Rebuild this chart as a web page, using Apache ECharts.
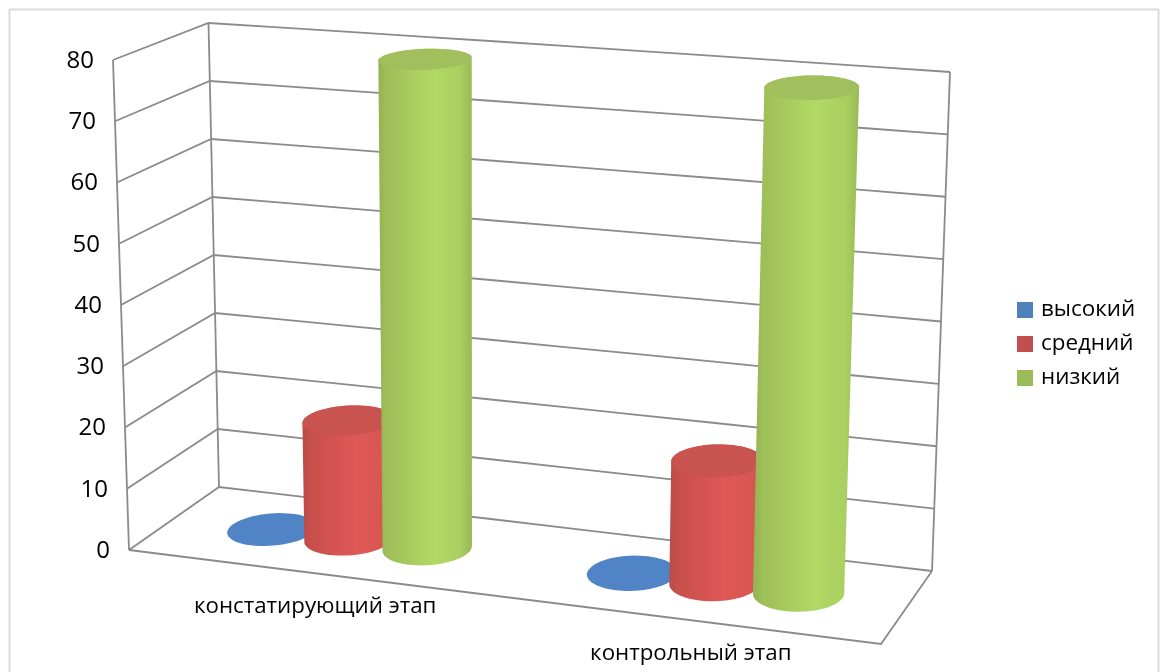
<!DOCTYPE html>
<html>
<head>
<meta charset="utf-8">
<style>html,body{margin:0;padding:0;background:#fff}#chart{width:1168px;height:672px}</style>
<script src="https://cdn.jsdelivr.net/npm/echarts@6/dist/echarts.min.js"></script>
</head>
<body>
<div id="chart"></div>
<script>
// Chart content
const categories = ['констатирующий этап', 'контрольный этап'];
const yTicks = [0, 10, 20, 30, 40, 50, 60, 70, 80];
const seriesNames = ['высокий', 'средний', 'низкий'];
const highValues = [0, 0];
const middleValues = [19.5, 19.5];
const lowValues = [80, 80];

// Box of the 3D scene on screen: corners listed front-left, front-right, back-right, back-left
const FLOOR = [[129, 550], [881, 644], [932, 571], [219, 487]];
const CEILING = [[113, 60], [898, 122], [950, 72], [208.5, 23]];
const FONT = '"Open Sans", sans-serif';
const WALL = '#8b8b8b';

// Maps the unit square onto a quadrilateral
function homography(q) {
  const [[x0, y0], [x1, y1], [x2, y2], [x3, y3]] = q;
  const dx1 = x1 - x2, dx2 = x3 - x2, sx = x0 - x1 + x2 - x3;
  const dy1 = y1 - y2, dy2 = y3 - y2, sy = y0 - y1 + y2 - y3;
  const det = dx1 * dy2 - dx2 * dy1;
  const g = (sx * dy2 - dx2 * sy) / det, h = (dx1 * sy - sx * dy1) / det;
  const a = x1 - x0 + g * x1, b = x3 - x0 + h * x3;
  const d = y1 - y0 + g * y1, e = y3 - y0 + h * y3;
  return (u, w) => {
    const k = g * u + h * w + 1;
    return [(a * u + b * w + x0) / k, (d * u + e * w + y0) / k];
  };
}
const floorMap = homography(FLOOR);
const RISE = CEILING.map((c, i) => [c[0] - FLOOR[i][0], c[1] - FLOOR[i][1]]);

// u: along the category axis, w: depth, v: height; all in 0..1
function project(u, w, v) {
  const f = floorMap(u, w);
  const blend = k => (RISE[0][k] * (1 - u) + RISE[1][k] * u) * (1 - w) + (RISE[3][k] * (1 - u) + RISE[2][k] * u) * w;
  return [f[0] + blend(0) * v, f[1] + blend(1) * v];
}
const heightOf = (api, cs, value) => (cs.y + cs.height - api.coord([0, value])[1]) / cs.height;

function convexHull(points) {
  const p = points.slice().sort((a, b) => a[0] - b[0] || a[1] - b[1]);
  const cross = (o, a, b) => (a[0] - o[0]) * (b[1] - o[1]) - (a[1] - o[1]) * (b[0] - o[0]);
  const half = list => {
    const out = [];
    for (const q of list) {
      while (out.length > 1 && cross(out[out.length - 2], out[out.length - 1], q) <= 0) out.pop();
      out.push(q);
    }
    out.pop();
    return out;
  };
  return half(p).concat(half(p.reverse()));
}

const strokeStyle = { stroke: WALL, lineWidth: 1.8, fill: 'none' };

function renderGridLines(params, api) {
  const cs = params.coordSys;
  const v = heightOf(api, cs, api.value(1));
  const backWall = [];
  for (let i = 0; i <= 10; i++) backWall.push(project(i / 10, 1, v));
  return {
    type: 'polyline',
    shape: { points: [project(0, 0, v)].concat(backWall) },
    style: strokeStyle
  };
}

// Wall edges and the outline of the floor
function renderBox() {
  const line = pts => ({ type: 'polyline', shape: { points: pts }, style: strokeStyle });
  return {
    type: 'group',
    children: [
      line([project(0, 0, 0), project(0, 0, 1)]),
      line([project(0, 1, 0), project(0, 1, 1)]),
      line([project(1, 1, 0), project(1, 1, 1)]),
      line([project(0, 0, 0), project(1, 0, 0), project(1, 1, 0)])
    ]
  };
}

function renderTickLabel(params, api) {
  const cs = params.coordSys;
  const value = api.value(1);
  const p = project(0, 0, heightOf(api, cs, value));
  return {
    type: 'text',
    style: { text: String(value), x: p[0] - 19, y: p[1] + 1, align: 'right', verticalAlign: 'middle',
      fontSize: 24, fontFamily: FONT, fill: '#000' }
  };
}

function renderCategoryLabel(params, api) {
  const cs = params.coordSys;
  const i = api.value(0);
  const p = project((api.coord([i, 0])[0] - cs.x) / cs.width, 0, 0);
  return {
    type: 'text',
    style: { text: categories[i], x: p[0] + 8, y: p[1] + 34, align: 'center', verticalAlign: 'middle',
      fontSize: 22.3, fontFamily: FONT, fill: '#000' }
  };
}

// One cylinder per data item; its circles are projected, so they tilt with the scene
function cylinderRenderer(offset, sideStops, capColor) {
  const RADIUS_U = 0.0565, RADIUS_W = 0.245, DEPTH = 0.5, STEPS = 60;
  return function (params, api) {
    const cs = params.coordSys;
    const pos = api.coord([api.value(0), api.value(1)]);
    const band = api.size([1, 0])[0] / cs.width;
    const u = (pos[0] - cs.x) / cs.width + offset * band;
    const v = (cs.y + cs.height - pos[1]) / cs.height;
    const circle = h => {
      const pts = [];
      for (let i = 0; i < STEPS; i++) {
        const t = i / STEPS * Math.PI * 2;
        pts.push(project(u + RADIUS_U * Math.cos(t), DEPTH + RADIUS_W * Math.sin(t), h));
      }
      return pts;
    };
    const base = circle(0), cap = circle(v);
    const capShape = { type: 'polygon', shape: { points: cap }, style: { fill: capColor } };
    if (v === 0) return capShape;
    return {
      type: 'group',
      children: [
        { type: 'polygon', shape: { points: convexHull(base.concat(cap)) },
          style: { fill: new echarts.graphic.LinearGradient(0, 0, 1, 0, sideStops) } },
        capShape
      ]
    };
  };
}

const stops = list => list.map(([offset, color]) => ({ offset, color }));
const redSide = stops([[0, '#b84c49'], [0.08, '#c64f4c'], [0.3, '#d25351'], [0.6, '#df5955'], [0.88, '#d85653'], [1, '#c25250']]);
const greenSide = stops([[0, '#93b252'], [0.08, '#9dbd58'], [0.3, '#a7ca5e'], [0.6, '#b1d964'], [0.88, '#a9cf60'], [1, '#97b955']]);
const pairs = values => values.map((value, i) => [i, value]);

const customBase = { type: 'custom', silent: true, coordinateSystem: 'cartesian2d', encode: { x: 0, y: 1 } };

const option = {
  animation: false,
  backgroundColor: '#fff',
  grid: { left: 113, top: 60, width: 768, height: 490 },
  xAxis: { type: 'category', data: categories, show: false },
  yAxis: { type: 'value', min: 0, max: 80, interval: 10, show: false },
  legend: {
    data: seriesNames, orient: 'vertical', left: 1012, top: 294, icon: 'rect',
    itemWidth: 16, itemHeight: 16, itemGap: 12,
    textStyle: { fontSize: 22.4, fontFamily: FONT, color: '#000', padding: [0, 0, 0, 3] }
  },
  graphic: [{
    type: 'rect', silent: true,
    shape: { x: 9.5, y: 9.5, width: 1149, height: 680 },
    style: { fill: 'none', stroke: '#dcdcdc', lineWidth: 2 }
  }],
  series: [
    { ...customBase, name: 'сетка', data: yTicks.map(t => [0, t]), renderItem: renderGridLines },
    { ...customBase, name: 'рамка', data: [[0, 0]], renderItem: renderBox },
    { ...customBase, name: 'деления', data: yTicks.map(t => [0, t]), renderItem: renderTickLabel },
    { ...customBase, name: 'этапы', data: categories.map((c, i) => [i, 0]), renderItem: renderCategoryLabel },
    { ...customBase, name: seriesNames[0], data: pairs(highValues), itemStyle: { color: '#4f81bd' },
      renderItem: cylinderRenderer(-0.22, stops([[0, '#4f81bd'], [1, '#4f81bd']]), '#5184c7') },
    { ...customBase, name: seriesNames[1], data: pairs(middleValues), itemStyle: { color: '#c0504d' },
      renderItem: cylinderRenderer(0, redSide, '#c9534f') },
    { ...customBase, name: seriesNames[2], data: pairs(lowValues), itemStyle: { color: '#9bbb59' },
      renderItem: cylinderRenderer(0.22, greenSide, '#9fc05c') }
  ]
};
echarts.init(document.getElementById('chart'), null, { renderer: 'canvas' }).setOption(option);
</script>
</body>
</html>
